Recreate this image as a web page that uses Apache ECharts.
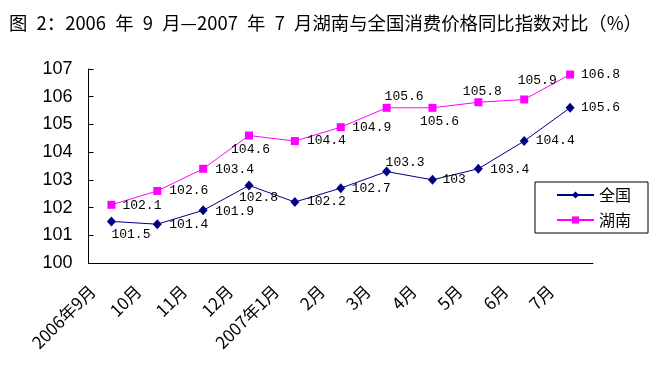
<!DOCTYPE html>
<html>
<head>
<meta charset="utf-8">
<script src="https://cdn.jsdelivr.net/npm/echarts@6/dist/echarts.min.js"></script>
<style>
  html, body { margin: 0; padding: 0; background: #fff; }
  #main { width: 659px; height: 377px; }
</style>
</head>
<body>
<div id="main"></div>
<script>
var months = ["2006年9月", "10月", "11月", "12月", "2007年1月", "2月", "3月", "4月", "5月", "6月", "7月"];
var quanguo = [101.5, 101.4, 101.9, 102.8, 102.2, 102.7, 103.3, 103, 103.4, 104.4, 105.6];
var hunan = [102.1, 102.6, 103.4, 104.6, 104.4, 104.9, 105.6, 105.6, 105.8, 105.9, 106.8];

// label placement (left edge dx, centre dy) relative to each point
var qgLabelPos = [[0, 13], [12, 0], [12, 1], [-10, 12.5], [12, 0], [11, 0.5], [-1, -9], [10, 0], [12, 0.5], [11.5, 0], [11, 0]];
var hnLabelPos = [[11, 1], [12, 0], [12, 1], [-18, 14], [12, 0], [11.5, 0], [-2, -11.5], [-12.5, 14], [-15.5, -10.5], [-6.5, -19], [11, 0]];

var labelFont = {
  fontFamily: "Liberation Mono",
  fontSize: 13,
  color: "#000"
};

function withLabels(values, pos) {
  return values.map(function (v, i) {
    return {
      value: v,
      label: Object.assign({
        show: true,
        position: "inside",
        align: "left",
        verticalAlign: "middle",
        offset: pos[i]
      }, labelFont)
    };
  });
}

var chart = echarts.init(document.getElementById("main"), null, { renderer: "canvas" });

var option = {
  animation: false,
  backgroundColor: "#fff",
  title: {
    // en spaces keep the half-width gaps of the original
    text: "图\u20022：2006\u2002年\u20029\u2002月—2007\u2002年\u20027\u2002月湖南与全国消费价格同比指数对比（%）",
    left: 4,
    top: 9,
    textStyle: {
      fontFamily: "Noto Sans CJK SC",
      fontSize: 18.4,
      fontWeight: "normal",
      color: "#000"
    }
  },
  legend: {
    orient: "vertical",
    left: 535,
    top: 182,
    padding: [5, 17, 5, 21],
    itemGap: 9,
    itemWidth: 37,
    itemHeight: 9,
    borderColor: "#000",
    borderWidth: 1,
    textStyle: {
      fontFamily: "Noto Sans CJK SC",
      fontSize: 16,
      color: "#000"
    },
    data: ["全国", "湖南"]
  },
  grid: {
    left: 88.5,
    right: 66,
    top: 69,
    bottom: 114
  },
  xAxis: {
    type: "category",
    data: months,
    boundaryGap: true,
    axisLine: { lineStyle: { color: "#000", width: 1 } },
    axisTick: { inside: true, length: 5, lineStyle: { color: "#000" } },
    axisLabel: {
      rotate: 45,
      margin: 6,
      padding: [0, 27, 0, 0],
      interval: 0,
      fontFamily: "Noto Sans CJK SC",
      fontSize: 17,
      color: "#000"
    },
    splitLine: { show: false }
  },
  yAxis: {
    type: "value",
    min: 100,
    max: 107,
    interval: 1,
    axisLine: { show: true, lineStyle: { color: "#000", width: 1 } },
    axisTick: { show: true, inside: true, length: 5, lineStyle: { color: "#000" } },
    axisLabel: {
      margin: 16,
      fontFamily: "Liberation Sans",
      fontSize: 18,
      color: "#000"
    },
    splitLine: { show: false }
  },
  series: [
    {
      name: "全国",
      type: "line",
      data: withLabels(quanguo, qgLabelPos),
      symbol: "diamond",
      symbolSize: [9, 10],
      lineStyle: { color: "#000080", width: 1 },
      itemStyle: { color: "#000080" }
    },
    {
      name: "湖南",
      type: "line",
      data: withLabels(hunan, hnLabelPos),
      symbol: "rect",
      symbolSize: 8,
      lineStyle: { color: "#ff00ff", width: 1 },
      itemStyle: { color: "#ff00ff" }
    }
  ]
};

chart.setOption(option);
</script>
</body>
</html>
